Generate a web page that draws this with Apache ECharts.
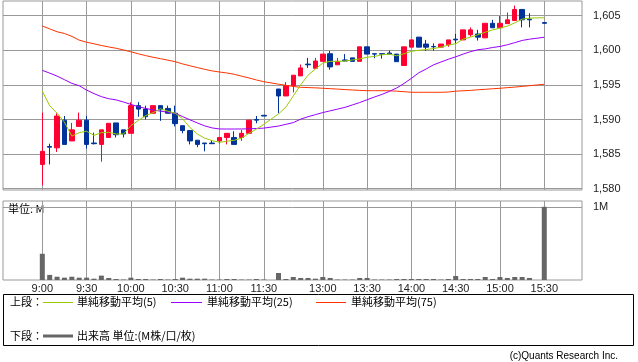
<!DOCTYPE html>
<html><head><meta charset="utf-8">
<script src="https://cdn.jsdelivr.net/npm/echarts@6/dist/echarts.min.js"></script>
<style>html,body{margin:0;padding:0;background:#fff}#c{width:638px;height:362px}</style>
</head><body><div id="c"></div>
<script>
// 5-minute slots: 0 = 9:00 ... 30 = 11:30, 31 = lunch gap, 32 = 12:30 ... 67 = 15:25 (no trade), 68 = 15:30
const tickSlots  = [0, 6, 12, 18, 24, 30, 38, 44, 50, 56, 62, 68];
const tickLabels = ['9:00','9:30','10:00','10:30','11:00','11:30','13:00','13:30','14:00','14:30','15:00','15:30'];
const priceTicks = [1580, 1585, 1590, 1595, 1600, 1605];
const volTicks = [1];
const volTickLabels = ['1M'];

const openP = [1583.5,1586.1,1585.9,1589.9,1586.9,1589.0,1589.9,1586.6,1586.4,1587.4,1589.5,1588.5,1588.0,1592.0,1591.5,1590.9,1592.0,1591.6,1590.9,1589.1,1588.4,1587.0,1586.6,1586.6,1586.9,1587.4,1587.4,1587.4,1588.0,1590.0,1590.6,null,
  1594.4,1593.4,1594.9,1596.3,1598.0,1597.4,1598.4,1599.5,1597.9,1598.6,1598.9,1598.4,1600.5,1599.5,1599.5,1599.6,1599.45,1597.8,1600.45,1601.9,1600.9,1600.55,1600.45,1600.8,1601.6,1601.5,1602.25,1602.35,1601.8,1603.9,1603.25,1603.85,1604.3,1605.9,1604.5,null,1604.0];
const closeP = [1585.4,1586.0,1590.5,1586.4,1588.5,1589.9,1586.4,1586.5,1588.5,1589.45,1587.8,1587.9,1592.0,1591.5,1590.4,1592.0,1591.4,1590.9,1589.4,1588.4,1586.9,1586.4,1586.5,1586.5,1587.4,1588.0,1586.4,1588.0,1589.9,1589.9,1590.5,null,
  1593.4,1594.9,1596.4,1597.45,1597.9,1598.45,1599.45,1597.6,1598.4,1598.45,1598.4,1600.5,1599.45,1599.45,1599.45,1599.45,1598.35,1600.5,1601.5,1600.45,1600.45,1600.5,1600.9,1601.5,1601.5,1602.95,1602.95,1601.9,1603.9,1603.25,1603.9,1604.4,1605.9,1604.4,1604.4,null,1603.9];
const lowP = [1580.5,1583.5,1585.3,1586.4,1586.9,1589.0,1585.8,1586.4,1583.9,1587.4,1587.4,1587.4,1588.0,1590.4,1590.0,1590.9,1589.8,1590.9,1589.0,1588.0,1586.4,1586.0,1585.4,1586.5,1586.5,1586.4,1586.4,1586.9,1588.0,1589.45,1590.5,null,
  1590.9,1593.4,1593.9,1596.3,1597.45,1597.4,1598.4,1597.2,1597.9,1598.4,1598.4,1598.4,1599.45,1598.85,1598.8,1599.45,1598.35,1597.8,1600.45,1600.45,1599.9,1599.95,1600.45,1600.5,1601.0,1601.5,1601.95,1601.4,1601.8,1603.25,1603.25,1603.85,1604.3,1603.3,1603.3,null,1603.9];
const highP = [1591.0,1586.5,1590.9,1590.5,1589.5,1591.0,1590.5,1588.1,1588.5,1589.45,1589.5,1588.5,1592.5,1592.5,1592.0,1592.0,1592.0,1592.0,1592.0,1589.1,1588.4,1587.0,1586.6,1587.0,1587.4,1588.0,1588.3,1588.5,1589.9,1590.5,1590.6,null,
  1594.4,1595.4,1596.4,1597.95,1598.9,1598.9,1599.45,1599.9,1598.9,1599.45,1598.9,1600.5,1600.5,1599.5,1599.5,1599.95,1599.45,1600.5,1601.5,1601.9,1601.5,1601.0,1600.9,1601.5,1602.35,1602.95,1603.3,1602.95,1603.9,1604.4,1604.95,1605.45,1606.45,1605.9,1605.35,null,1604.0];

const ma5 = [1594.1,1592.0,1590.9,1589.6,1587.6,1588.1,1588.3,1587.7,1588.1,1588.15,1587.9,1587.9,1589.1,1589.85,1590.55,1590.98,1591.55,1591.2,1590.9,1590.1,1588.85,1587.9,1587.3,1586.95,1586.7,1586.85,1587.0,1587.3,1588.0,1588.6,1589.3,null,
  1590.8,1591.8,1593.4,1595.0,1596.4,1597.3,1598.15,1598.4,1598.4,1598.45,1598.6,1598.75,1599.0,1599.1,1599.35,1599.45,1599.2,1599.5,1599.85,1600.0,1600.1,1600.25,1600.45,1600.75,1600.95,1601.6,1601.9,1602.25,1602.6,1602.95,1603.2,1603.5,1603.95,1604.5,1604.65,null,1604.7];
const ma25 = [1597.1,1596.7,1596.27,1595.75,1595.22,1594.88,1594.25,1593.74,1593.3,1593.0,1592.83,1592.52,1592.18,1591.85,1591.6,1591.38,1591.2,1591.05,1590.9,1590.42,1589.95,1589.5,1589.08,1588.78,1588.63,1588.62,1588.62,1588.63,1588.65,1588.7,1588.75,null,
  1589.05,1589.3,1589.55,1590.05,1590.4,1590.7,1591.0,1591.25,1591.5,1591.75,1592.1,1592.45,1592.85,1593.25,1593.62,1594.05,1594.55,1595.2,1595.95,1596.75,1597.3,1597.9,1598.3,1598.7,1599.05,1599.45,1599.8,1600.08,1600.2,1600.4,1600.55,1600.8,1601.1,1601.42,1601.6,null,1601.88];
const ma75 = [1603.51,1603.09,1602.67,1602.43,1602.01,1601.46,1601.16,1600.94,1600.69,1600.48,1600.29,1600.04,1599.78,1599.49,1599.23,1598.99,1598.79,1598.57,1598.35,1598.03,1597.76,1597.5,1597.25,1597.02,1596.86,1596.72,1596.53,1596.26,1596.0,1595.71,1595.46,null,
  1595.1,1594.94,1594.77,1594.65,1594.61,1594.57,1594.51,1594.45,1594.39,1594.32,1594.26,1594.2,1594.16,1594.16,1594.16,1594.15,1594.09,1594.02,1593.93,1593.93,1593.93,1593.93,1593.93,1593.97,1594.09,1594.15,1594.2,1594.29,1594.36,1594.44,1594.51,1594.6,1594.68,1594.78,1594.88,null,1595.09];

const volume = [0.36,0.07,0.045,0.032,0.045,0.032,0.032,0.018,0.06,0.028,0.014,0.006,0.032,0.014,0.014,0.006,0.014,0.006,0.014,0.032,0.018,0.018,0.018,0.006,0.006,0.014,0.014,0.006,0.006,0.014,0.006,null,
  0.096,0.014,0.041,0.028,0.028,0.018,0.041,0.028,0.006,0.006,0.006,0.028,0.028,0.006,0.006,0.006,0.014,0.014,0.014,0.014,0.014,0.014,0.006,0.014,0.055,0.014,0.014,0.014,0.041,0.014,0.041,0.028,0.041,0.041,0.028,null,1.005];

const RED = '#ff0033', BLUE = '#003399', GRID = '#999999';
const candleData = [];
openP.forEach((o, i) => { if (o != null) candleData.push([i, o, closeP[i], lowP[i], highP[i]]); });
const pairs = arr => arr.map((v, i) => [i, v]).filter(d => d[1] != null);

const labelFont = { fontFamily: 'Liberation Sans', fontSize: 11, color: '#222' };
const xBase = (g, showLabel) => ({
  gridIndex: g, type: 'value', min: -5.324, max: 73.11,
  axisLine: { show: false },
  axisTick: { show: false, customValues: tickSlots },
  axisLabel: Object.assign({ show: showLabel, customValues: tickSlots, margin: 3,
    formatter: v => tickLabels[tickSlots.indexOf(v)] }, labelFont),
  splitLine: { show: true, lineStyle: { color: GRID, width: 1 } }
});

const CJK = '"Noto Sans CJK JP"';
const txt = (x, y, s, size, align, fam) => ({ type: 'text', x: x, y: y, silent: true,
  style: { text: s, font: size + 'px ' + (fam || CJK), fill: '#000', align: align || 'left', verticalAlign: 'middle' } });
const ln = (x1, x2, y, color, w) => ({ type: 'line', silent: true, shape: { x1: x1, y1: y, x2: x2, y2: y }, style: { stroke: color, lineWidth: w || 1 } });

const chart = echarts.init(document.getElementById('c'), null, { renderer: 'canvas' });
chart.setOption({
  animation: false,
  backgroundColor: '#fff',
  grid: [
    { left: 3, top: 1, width: 579, height: 189, show: true, borderColor: GRID, borderWidth: 1, backgroundColor: '#fff' },
    { left: 3, top: 201, width: 579, height: 79, show: true, borderColor: GRID, borderWidth: 1, backgroundColor: '#fff' }
  ],
  xAxis: [xBase(0, false), xBase(1, true)],
  yAxis: [
    { gridIndex: 0, type: 'value', position: 'right', min: 1579.81, max: 1607.12,
      axisLine: { show: false },
      axisTick: { show: true, length: 7, customValues: priceTicks, lineStyle: { color: GRID } },
      axisLabel: Object.assign({ customValues: priceTicks, margin: 11, formatter: v => v.toLocaleString('en-US') }, labelFont),
      splitLine: { show: true, lineStyle: { color: GRID, width: 1 } } },
    { gridIndex: 1, type: 'value', position: 'right', min: 0, max: 1.085,
      axisLine: { show: false },
      axisTick: { show: true, length: 7, customValues: volTicks, lineStyle: { color: GRID } },
      axisLabel: Object.assign({ customValues: volTicks, margin: 11, formatter: v => volTickLabels[volTicks.indexOf(v)] }, labelFont),
      splitLine: { show: true, lineStyle: { color: GRID, width: 1 } } }
  ],
  series: [
    { type: 'line', xAxisIndex: 0, yAxisIndex: 0, data: pairs(ma75), symbol: 'none', connectNulls: true, silent: true,
      lineStyle: { color: '#ff3300', width: 1 } },
    { type: 'line', xAxisIndex: 0, yAxisIndex: 0, data: pairs(ma25), symbol: 'none', connectNulls: true, silent: true,
      lineStyle: { color: '#9900ff', width: 1 } },
    { type: 'candlestick', xAxisIndex: 0, yAxisIndex: 0, data: candleData, encode: { x: 0, y: [1, 2, 3, 4] },
      barWidth: 5, silent: true,
      itemStyle: { color: RED, color0: BLUE, borderColor: RED, borderColor0: BLUE, borderWidth: 1 } },
    { type: 'line', xAxisIndex: 0, yAxisIndex: 0, data: pairs(ma5), symbol: 'none', connectNulls: true, silent: true,
      lineStyle: { color: '#99cc00', width: 1 } },
    { type: 'bar', xAxisIndex: 1, yAxisIndex: 1, data: pairs(volume), barWidth: 5, silent: true,
      itemStyle: { color: '#666666' } }
  ],
  graphic: [
    txt(8, 209, '単位: M', 11),
    { type: 'rect', silent: true, shape: { x: 3.5, y: 294.5, width: 630, height: 51 }, style: { fill: 'none', stroke: '#000', lineWidth: 1 } },
    txt(10, 302, '上段：', 11),
    ln(43, 73, 302.5, '#99cc00'),
    txt(77, 302, '単純移動平均(5)', 11),
    ln(171, 202, 302.5, '#9900ff'),
    txt(207, 302, '単純移動平均(25)', 11),
    ln(316, 346, 302.5, '#ff3300'),
    txt(351, 302, '単純移動平均(75)', 11),
    txt(10, 336, '下段：', 11),
    ln(43, 73, 336, '#666666', 3),
    txt(77, 336, '出来高 単位:(M株/口/枚)', 11),
    txt(618, 356, '(c)Quants Research Inc.', 10, 'right', 'Liberation Sans')
  ]
});
</script>
</body></html>
